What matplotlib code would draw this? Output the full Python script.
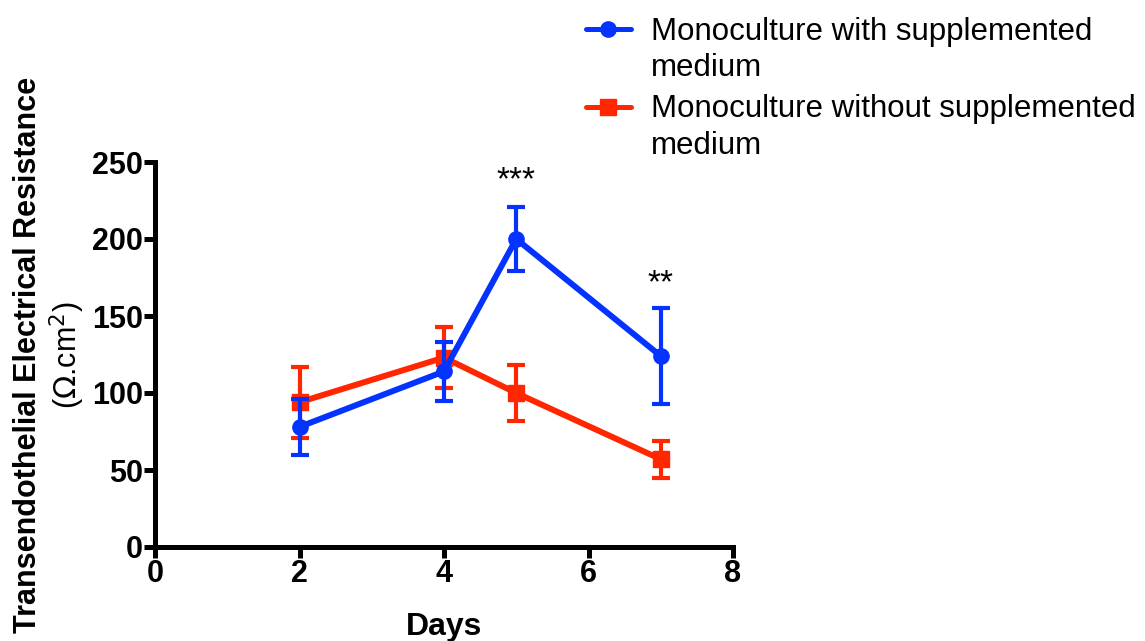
import numpy as np
import matplotlib.pyplot as plt
from matplotlib.lines import Line2D

plt.rcParams['font.family'] = ['Liberation Sans', 'DejaVu Sans']

# data
days = [2, 4, 5, 7]
with_supp = [78, 114, 200, 124]
with_supp_err = [18, 19, 21, 31]
without_supp = [94, 123, 100, 57]
without_supp_err = [23, 20, 18, 12]
stars = {5: ('***', 238), 7: ('**', 171)}
legend_labels = [['Monoculture with supplemented', 'medium'],
                 ['Monoculture without supplemented', 'medium']]

blue = '#0433FF'
red = '#FF2600'

W, H = 1145, 641
fig = plt.figure(figsize=(W / 100, H / 100), dpi=100)
ax = fig.add_axes([155 / W, 1 - 547 / H, 578 / W, 385 / H])

ax.errorbar(days, without_supp, yerr=without_supp_err, color=red, lw=4.3,
            marker='s', ms=11, capsize=6.5, capthick=3, elinewidth=3,
            zorder=2)
ax.errorbar(days, with_supp, yerr=with_supp_err, color=blue, lw=4.3,
            marker='o', ms=11, capsize=6.5, capthick=3, elinewidth=3,
            zorder=3)

for x, (s, y) in stars.items():
    ax.text(x, y, s, ha='center', va='center', fontsize=24)

ax.set_xlim(0, 8)
ax.set_ylim(0, 250)
ax.set_xticks([0, 2, 4, 6, 8])
ax.set_yticks([0, 50, 100, 150, 200, 250])
for s in ['top', 'right']:
    ax.spines[s].set_visible(False)
for s in ['left', 'bottom']:
    ax.spines[s].set_linewidth(3.6)
ax.tick_params(direction='out', length=8, width=3.6, labelsize=22, pad=0.5)
for lab in ax.get_xticklabels() + ax.get_yticklabels():
    lab.set_fontweight('bold')

fig.text(444 / W, 1 - 627 / H, 'Days', ha='center', va='center',
         fontsize=23, fontweight='bold')
fig.text(28 / W, 1 - 355 / H, 'Transendothelial Electrical Resistance',
         rotation=90, ha='center', va='center', fontsize=22, fontweight='bold')
fig.text(67 / W, 1 - 355 / H, r'($\Omega$.cm$^2$)', rotation=90,
         ha='center', va='center', fontsize=22)

# legend drawn by hand: handle sits on the first line of each label
for (col, mk, hy, bases), lines in zip(
        [(blue, 'o', 29, (40, 76)), (red, 's', 107, (117, 154))], legend_labels):
    fy = 1 - hy / H
    fig.add_artist(Line2D([586 / W, 631 / W], [fy, fy], color=col, lw=3.6,
                          solid_capstyle='round', transform=fig.transFigure))
    fig.add_artist(Line2D([608 / W], [fy], color=col, marker=mk, ms=11,
                          lw=0, transform=fig.transFigure))
    for txt, b in zip(lines, bases):
        fig.text(651 / W, 1 - b / H, txt, ha='left', va='baseline',
                 fontsize=22.5)

fig.savefig('out.png', dpi=100)
